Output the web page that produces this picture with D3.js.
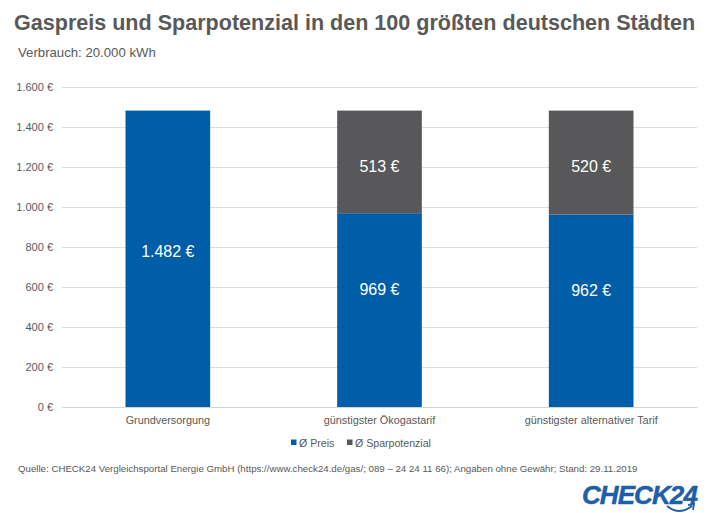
<!DOCTYPE html>
<html>
<head>
<meta charset="utf-8">
<script src="https://cdnjs.cloudflare.com/ajax/libs/d3/7.8.5/d3.min.js"></script>
<style>
    html, body { margin: 0; padding: 0; background: #fff; }
    svg { display: block; font-family: "Liberation Sans", Arial, sans-serif; }
</style>
</head>
<body>
<div id="chart"></div>
<script>
// data
var categories = ['Grundversorgung', 'günstigster Ökogastarif', 'günstigster alternativer Tarif'];
var preis = [1482, 969, 962];
var sparpotenzial = [0, 513, 520];
var seriesNames = ['Ø Preis', 'Ø Sparpotenzial'];
var yTicks = [0, 200, 400, 600, 800, 1000, 1200, 1400, 1600];

var blue = '#005EA8', grey = '#58585A', textGrey = '#595959';

var width = 710, height = 513;
var margin = {top: 87, right: 13, bottom: 106, left: 62};

var svg = d3.select('#chart').append('svg')
            .attr('width', width)
            .attr('height', height);

// number format with german separators
var de = d3.formatLocale({decimal: ',', thousands: '.', grouping: [3], currency: ['', ' €']});
var euro = function(d) { return de.format(',')(d) + ' €'; };

// scales
var xScale = d3.scaleBand()
                .domain(categories)
                .range([margin.left, width - margin.right])
                .paddingInner(0.6)
                .paddingOuter(0.3);
var yScale = d3.scaleLinear()
                .domain([0, 1600])
                .range([height - margin.bottom, margin.top]);

// title + subtitle
svg.append('text').attr('x', 14).attr('y', 30)
    .attr('font-size', 21.55).attr('font-weight', 'bold').attr('fill', textGrey)
    .text('Gaspreis und Sparpotenzial in den 100 größten deutschen Städten');
svg.append('text').attr('x', 18).attr('y', 57)
    .attr('font-size', 13.2).attr('fill', textGrey)
    .text('Verbrauch: 20.000 kWh');

// axes
var yAxis = d3.axisLeft(yScale)
                .tickValues(yTicks)
                .tickSize(-(width - margin.left - margin.right))
                .tickPadding(9)
                .tickFormat(euro);
var yAxisG = svg.append('g')
                .attr('transform', 'translate(' + margin.left + ',0)')
                .call(yAxis);
yAxisG.select('.domain').remove();
yAxisG.selectAll('line').attr('stroke', '#DEDEDE').attr('stroke-width', 1);
yAxisG.selectAll('text').attr('font-size', 11).attr('fill', textGrey);

var xAxis = d3.axisBottom(xScale).tickSize(0).tickPadding(9);
var xAxisG = svg.append('g')
                .attr('transform', 'translate(0,' + yScale(0) + ')')
                .call(xAxis);
xAxisG.select('.domain').attr('stroke', '#D0D5DA');
xAxisG.selectAll('text').attr('font-size', 10.85).attr('fill', textGrey);

// stacked bars
var rows = categories.map(function(c, i) {
    return {category: c, preis: preis[i], spar: sparpotenzial[i]};
});
var stack = d3.stack().keys(['preis', 'spar'])(rows);
var colors = [blue, grey];

// labels do not sit in the middle of the segment, they sit this far up it
var labelShare = [[0.526, 0.604, 0.608], [0, 0.46, 0.467]];

stack.forEach(function(layer, k) {
    var g = svg.append('g');
    layer.forEach(function(d, i) {
        var value = d[1] - d[0];
        if (value === 0) return;
        g.append('rect')
            .attr('x', xScale(d.data.category))
            .attr('width', xScale.bandwidth())
            .attr('y', yScale(d[1]))
            .attr('height', yScale(d[0]) - yScale(d[1]))
            .attr('fill', colors[k]);
        g.append('text')
            .attr('x', xScale(d.data.category) + xScale.bandwidth() / 2)
            .attr('y', yScale(d[0] + value * labelShare[k][i]) + 5.5)
            .attr('text-anchor', 'middle')
            .attr('font-size', 16)
            .attr('fill', '#fff')
            .text(euro(value));
    });
});

// legend
var legendX = [291, 347];
seriesNames.forEach(function(name, i) {
    svg.append('rect').attr('x', legendX[i]).attr('y', 439.5)
        .attr('width', 5.5).attr('height', 5.5).attr('fill', colors[i]);
    svg.append('text').attr('x', legendX[i] + 8).attr('y', 446.5)
        .attr('font-size', 10.6).attr('fill', textGrey).text(name);
});

// source line
svg.append('text').attr('x', 18).attr('y', 472)
    .attr('font-size', 9.7).attr('fill', textGrey)
    .text('Quelle: CHECK24 Vergleichsportal Energie GmbH (https://www.check24.de/gas/; 089 – 24 24 11 66); Angaben ohne Gewähr; Stand: 29.11.2019');

// logo
var logo = svg.append('g');
logo.append('text').attr('x', 697).attr('y', 504)
    .attr('text-anchor', 'end')
    .attr('font-size', 26).attr('font-weight', 'bold').attr('font-style', 'italic')
    .attr('letter-spacing', -0.9)
    .attr('stroke', '#1F5FA8').attr('stroke-width', 0.5)
    .attr('fill', '#1F5FA8')
    .text('CHECK24');
logo.append('path')
    .attr('d', 'M667 506 Q679 516 692 506 M688 505 L694 504 L693 510')
    .attr('fill', 'none').attr('stroke', '#1F5FA8').attr('stroke-width', 1.8);
</script>
</body>
</html>
